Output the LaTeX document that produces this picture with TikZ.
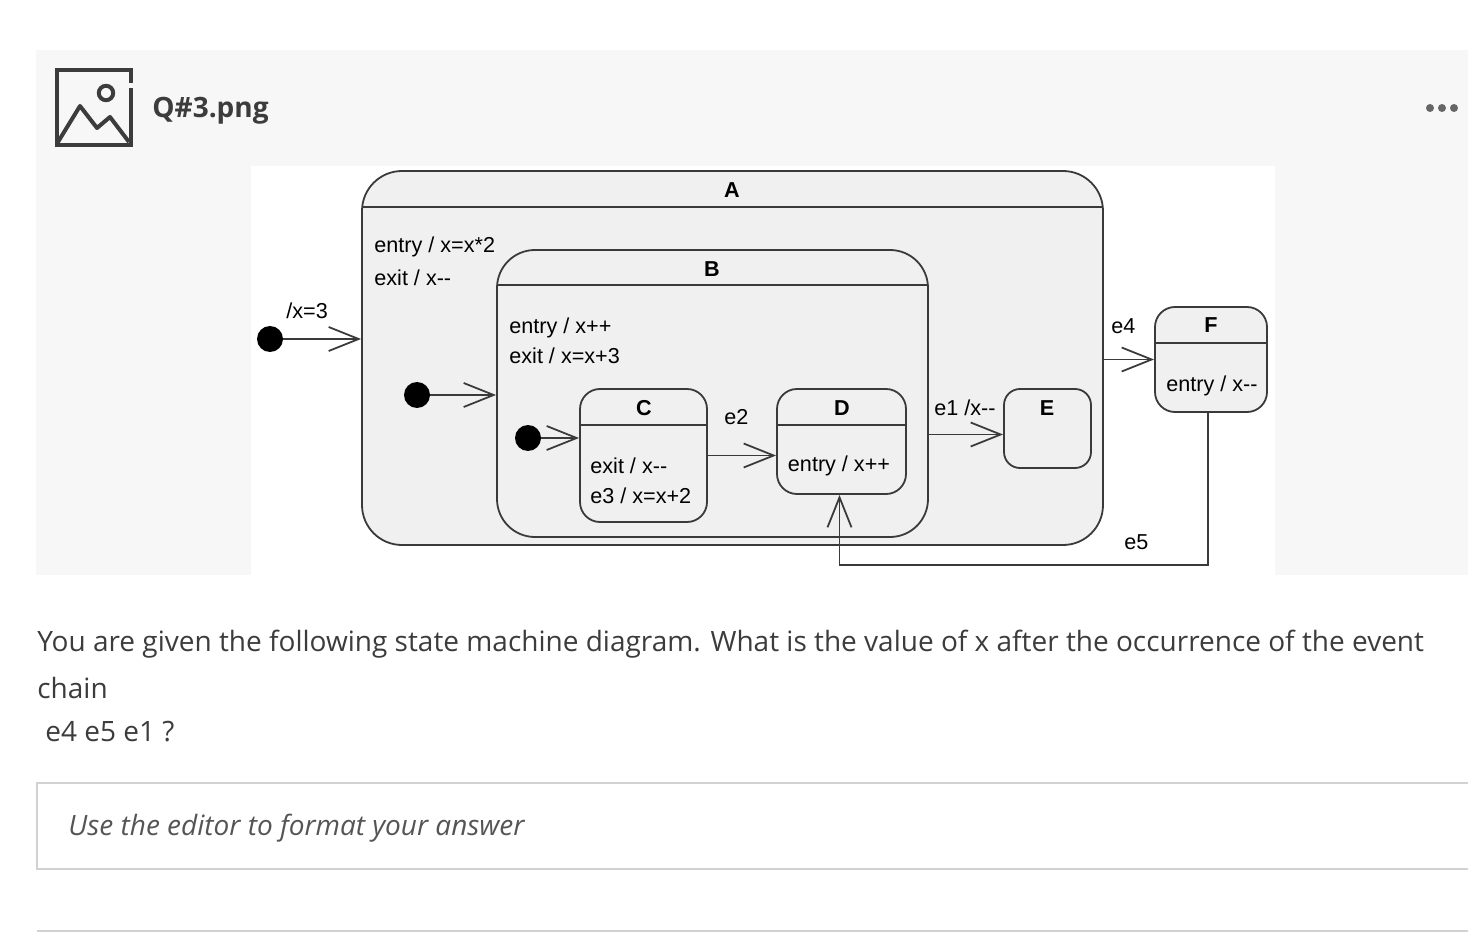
\documentclass[tikz,border=0pt]{standalone}
\usepackage{fontspec}
\setmainfont{Open Sans}
\newfontfamily\diafont{Liberation Sans}
\usetikzlibrary{arrows.meta,fit}
\definecolor{panel}{HTML}{F7F7F7}
\definecolor{statefill}{HTML}{F0F0F0}
\definecolor{ink}{HTML}{3A3A3A}
\definecolor{bodytext}{HTML}{3C3C3C}
\definecolor{hint}{HTML}{555555}
\definecolor{rulegray}{HTML}{D2D2D2}
\definecolor{dotgray}{HTML}{666666}
\begin{document}
\begin{tikzpicture}[x=0.5pt,y=-0.5pt,
  state/.style={draw=ink,line width=0.9pt,fill=statefill,inner sep=0pt},
  hdr/.style={draw=ink,line width=0.9pt},
  pseudo/.style={circle,fill=black,minimum size=13pt,inner sep=0pt},
  tr/.style={draw=ink,line width=0.9pt,-{Straight Barb[length=15pt,width=12pt,line width=0.9pt]}},
  lbl/.style={font=\diafont\fontsize{10.8pt}{13pt}\selectfont,inner sep=0pt,text=black},
  sname/.style={lbl,font=\diafont\bfseries\fontsize{10.8pt}{13pt}\selectfont},
  body/.style={font=\fontsize{14pt}{16pt}\selectfont,inner sep=0pt,text=bodytext,anchor=west}]
\useasboundingbox (0,0) rectangle (1468,936);
\fill[panel] (36,50) rectangle (1468,575);
\fill[white] (251,166) rectangle (1275,575);
\draw[bodytext,line width=2pt] (131,83) -- (131,70) -- (57,70) -- (57,145) -- (131,145) -- (131,88);
\draw[bodytext,line width=2pt] (106,93) circle (3.6pt);
\draw[bodytext,line width=2pt,line join=round] (58,142) -- (80,106) -- (97,128) -- (110,117) -- (129,142);
\node[body,font=\bfseries\fontsize{14pt}{16pt}\selectfont] (title) at (152,111) {Q\#3.png};
\foreach \i in {1430,1442,1454} \fill[dotgray] (\i,108) circle (2pt);
\node[state,rounded corners=20pt,fit={(362,171) (1103,545)}] (A) {};
\draw[hdr] (362,207) -- (1103,207);
\node[sname] (Aname) at (732,190) {A};
\node[lbl,anchor=west] (Aent) at (374,247) {entry / x=x*2};
\node[lbl,anchor=west] (Aex) at (374,278) {exit / x-{}-};
\node[state,rounded corners=19pt,fit={(497,250) (928,537)}] (B) {};
\draw[hdr] (497,285) -- (928,285);
\node[sname] (Bname) at (712,269) {B};
\node[lbl,anchor=west] (Bent) at (509,328) {entry / x++};
\node[lbl,anchor=west] (Bex) at (509,356) {exit / x=x+3};
\node[state,rounded corners=10pt,fit={(580,389) (707,522)}] (C) {};
\draw[hdr] (580,425) -- (707,425);
\node[sname] (Cname) at (644,408) {C};
\node[lbl,anchor=west] (Cex) at (590,466) {exit / x-{}-};
\node[lbl,anchor=west] (Ce3) at (590,496) {e3 / x=x+2};
\node[state,rounded corners=10pt,fit={(777,389) (906,494)}] (D) {};
\draw[hdr] (777,425) -- (906,425);
\node[sname] (Dname) at (842,408) {D};
\node[lbl] (Dent) at (839,466) {entry / x++};
\node[state,rounded corners=8pt,fit={(1004,389) (1091,468)}] (E) {};
\node[sname] (Ename) at (1047,408) {E};
\node[state,rounded corners=10pt,fit={(1155,307) (1267,412)}] (F) {};
\draw[hdr] (1155,343) -- (1267,343);
\node[sname] (Fname) at (1211,325) {F};
\node[lbl] (Fent) at (1212,386) {entry / x-{}-};
\node[pseudo] (i0) at (270,339) {};
\node[pseudo] (i1) at (417,395) {};
\node[pseudo] (i2) at (528,438) {};
\draw[tr] (i0) -- (i0 -| A.west);
\draw[tr] (i1) -- (i1 -| B.west);
\draw[tr] (i2) -- (i2 -| C.west);
\draw[tr] (C.east) -- (C.east -| D.west);
\coordinate (e1end) at ([yshift=-3pt]E.west);
\draw[tr] (B.east |- e1end) -- (e1end);
\draw[tr] (A.east |- F.west) -- (F.west);
\coordinate (e5y) at (0,565);
\draw[tr] ([xshift=-1.5pt]F.south) -- ([xshift=-1.5pt]F.south |- e5y) -| ([xshift=-1pt]D.south);
\node[lbl,anchor=west] (t0) at (286,311) {/x=3};
\node[lbl,anchor=west] (te2) at (724,417) {e2};
\node[lbl,anchor=west] (te1) at (934,408) {e1 /x-{}-};
\node[lbl,anchor=west] (te4) at (1111,326) {e4};
\node[lbl,anchor=west] (te5) at (1124,542) {e5};
\node[body] (q1) at (37,644) {You are given the following state machine diagram. What is the value of x after the occurrence of the event};
\node[body] (q2) at (37,688) {chain};
\node[body] (q3) at (45,732) {e4 e5 e1 ?};
\draw[rulegray,line width=1pt] (1468,783) -- (37,783) -- (37,869) -- (1468,869);
\node[body,text=hint,font=\itshape\fontsize{14pt}{16pt}\selectfont] (hintline) at (68,828) {Use the editor to format your answer};
\draw[rulegray,line width=1pt] (37,931) -- (1468,931);
\end{tikzpicture}
\end{document}
